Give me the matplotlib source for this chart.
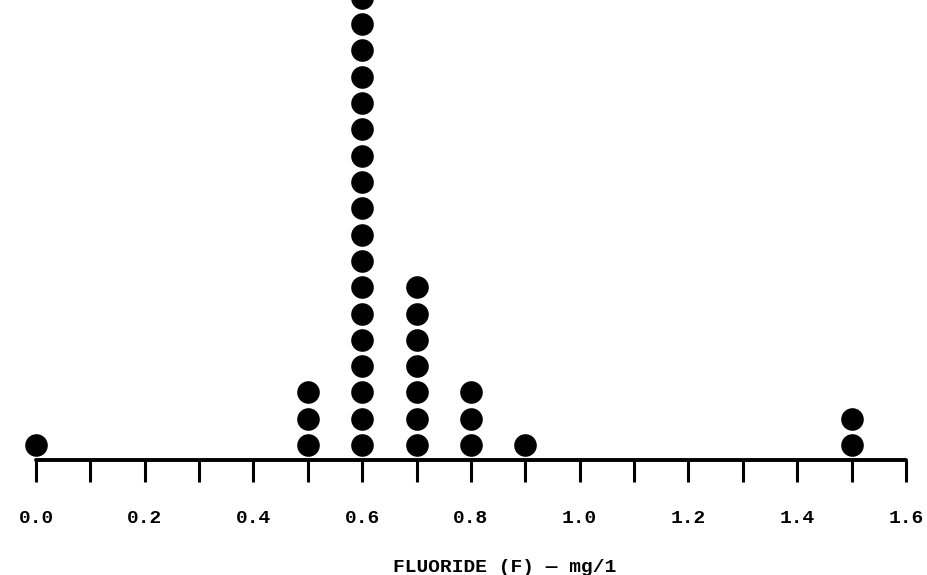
import matplotlib.pyplot as plt

# Fluoride readings (mg/l) and how many samples fell at each value
fluoride = [0.0, 0.5, 0.6, 0.7, 0.8, 0.9, 1.5]
counts = [1, 3, 18, 7, 3, 1, 2]

tick_values = [i / 10 for i in range(17)]
tick_labels = ["%.1f" % t if i % 2 == 0 else "" for i, t in enumerate(tick_values)]

fig = plt.figure(figsize=(9.27, 5.75), dpi=100)
ax = fig.add_axes([36 / 927, 115 / 575, 870 / 927, 460 / 575])

for v, c in zip(fluoride, counts):
    ax.scatter([v] * c, list(range(1, c + 1)), s=265, color="black",
               marker="o", linewidths=0, clip_on=False, zorder=3)

ax.set_xlim(0, 1.6)
ax.set_ylim(0.43, 17.92)

for side in ["left", "top", "right"]:
    ax.spines[side].set_visible(False)
ax.spines["bottom"].set_linewidth(2.8)
ax.spines["bottom"].set_capstyle("round")

ax.set_yticks([])
ax.set_xticks(tick_values)
ax.set_xticklabels(tick_labels, family="Liberation Mono", fontsize=14, fontweight="bold")
ax.tick_params(axis="x", direction="out", length=16, width=2.2, pad=20)

fig.text(505 / 927, 1 - 567 / 575, "FLUORIDE (F) \u2014 mg/1", ha="center", va="center",
         family="Liberation Mono", fontsize=14, fontweight="bold")

plt.savefig("out.png", dpi=100)
